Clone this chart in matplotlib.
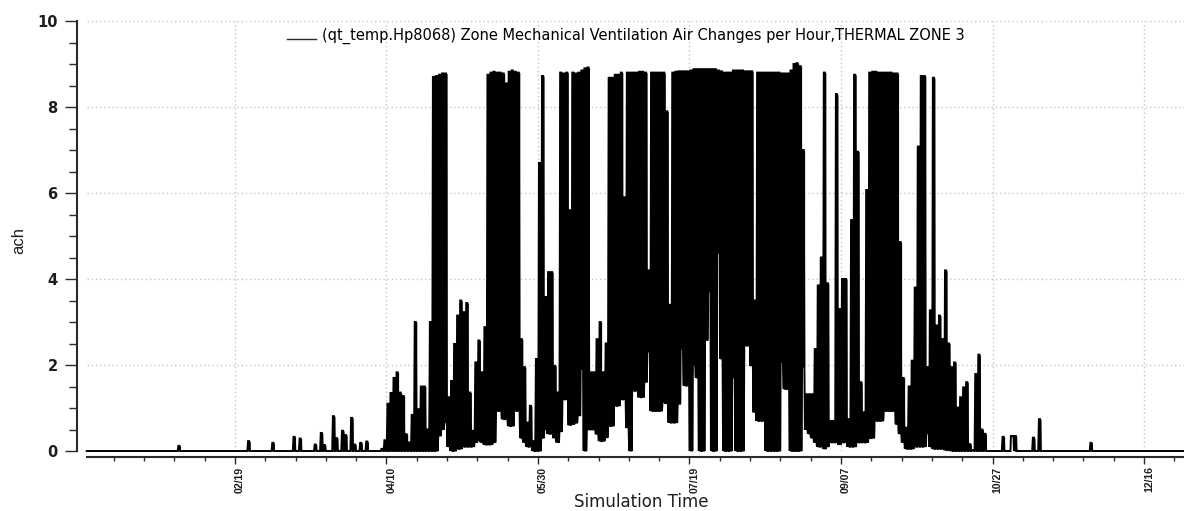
import numpy as np
import matplotlib
matplotlib.use("Agg")
import matplotlib.pyplot as plt
from matplotlib.lines import Line2D
from matplotlib.legend_handler import HandlerLine2D
from matplotlib.ticker import MultipleLocator

# Daily envelope of the zone's mechanical ventilation rate (ach), one value
# per day of year (Jan 1 = day 1) for the ventilation season.
season_start = 98
season_max = [
    0.05, 0.25, 1.1, 1.35, 1.7, 1.83, 1.36, 1.28, 0.39, 0.2,
    0.84, 3.0, 0.97, 1.5, 1.5, 0.5, 3.0, 8.7, 8.72, 8.75,
    8.78, 8.78, 1.25, 1.63, 2.49, 3.15, 3.5, 3.23, 3.44, 1.36,
    0.47, 2.06, 2.57, 1.83, 2.88, 8.75, 8.8, 8.82, 8.8, 8.8,
    8.78, 8.55, 8.82, 8.85, 8.82, 8.8, 2.6, 1.95, 0.66, 1.05,
    0.23, 2.14, 6.7, 8.72, 3.58, 4.16, 4.16, 1.98, 1.36, 8.8,
    8.78, 8.8, 5.6, 8.8, 8.78, 8.8, 8.85, 8.9, 8.92, 1.83,
    1.83, 2.6, 3.0, 1.83, 2.5, 8.68, 8.68, 8.75, 8.75, 8.8,
    5.9, 8.8, 8.8, 8.8, 8.8, 8.82, 8.82, 8.8, 4.2, 8.8,
    8.8, 8.8, 8.8, 8.8, 7.9, 3.4, 8.8, 8.82, 8.83, 8.83,
    8.83, 8.83, 8.85, 8.88, 8.88, 8.88, 8.88, 8.88, 8.88, 8.88,
    8.88, 8.85, 8.83, 8.8, 8.8, 8.8, 8.85, 8.85, 8.85, 8.85,
    8.83, 8.83, 8.83, 3.5, 8.8, 8.8, 8.8, 8.8, 8.8, 8.8,
    8.8, 8.8, 8.78, 8.78, 8.78, 8.85, 9.0, 9.02, 8.95, 7.0,
    1.32, 1.32, 1.32, 2.37, 3.85, 4.5, 8.8, 3.9, 0.7, 0.7,
    8.3, 3.3, 4.0, 4.0, 0.74, 5.37, 8.75, 6.96, 1.6, 0.9,
    6.07, 8.8, 8.82, 8.82, 8.8, 8.8, 8.8, 8.8, 8.8, 8.78,
    8.78, 4.86, 1.7, 0.54, 1.5, 2.1, 3.8, 7.08, 8.72, 8.72,
    1.95, 3.27, 8.68, 2.92, 3.15, 2.6, 4.2, 2.5, 1.95, 2.06,
    1.01, 1.25, 1.48, 1.6, 0.16, 0.02, 1.79, 2.24, 0.5, 0.4,
]
season_min = [
    0, 0, 0, 0, 0, 0, 0, 0, 0, 0,
    0, 0, 0, 0, 0, 0, 0, 0, 0, 0.35,
    0.5, 0.66, 0.1, 0, 0, 0.05, 0.05, 0.1, 0.1, 0.1,
    0.1, 0.2, 0.25, 0.2, 0.15, 0.15, 0.15, 0.2, 0.93, 0.93,
    0.74, 0.74, 0.58, 0.58, 0.93, 0.93, 0.3, 0.2, 0.1, 0.1,
    0, 0, 0, 0.3, 0.5, 0.4, 0.4, 0.3, 0.2, 0.45,
    1.2, 1.2, 0.6, 0.62, 0.65, 0.82, 1.9, 0, 0.5, 0.5,
    0.5, 0.39, 0.23, 0.23, 0.31, 0.58, 0.58, 1.05, 1.05, 1.2,
    1.2, 0.54, 0, 1.4, 1.4, 1.25, 1.25, 1.6, 2.3, 0.93,
    0.93, 0.93, 0.93, 1.13, 1.1, 0.66, 0.66, 0.66, 1.09, 2.37,
    1.52, 1.52, 0, 2.0, 1.7, 0, 0, 2.57, 3.7, 0,
    0, 4.6, 2.14, 0, 0, 0, 1.7, 0, 0, 0,
    2.45, 2.45, 1.98, 0.9, 0.7, 0.7, 0.7, 0, 0, 0,
    0, 0, 2.06, 1.44, 1.44, 0, 0, 0, 0, 1.95,
    0.5, 0.4, 0.3, 0.2, 0.1, 0.1, 0.05, 0.1, 0.2, 0.2,
    0.2, 0.15, 0.2, 0.2, 0.1, 0.1, 0.1, 0.2, 0.2, 0.2,
    0.2, 0.3, 0.3, 0.7, 0.7, 0.7, 0.93, 0.93, 0.93, 0.93,
    0.62, 0.4, 0.2, 0.05, 0.05, 0.05, 0.1, 0.1, 0.1, 0.1,
    0.4, 0.1, 0.05, 0.05, 0.05, 0.05, 0.02, 0.02, 0, 0,
    0, 0, 0, 0, 0, 0, 0, 0, 0, 0,
]

# Short isolated ventilation events outside the season
event_days = [31, 54, 62, 69, 71, 76, 78, 79, 82, 83, 85, 86, 88, 89, 91, 93,
              303, 306, 307, 313, 315, 332]
event_max = [0.12, 0.23, 0.19, 0.33, 0.29, 0.15, 0.42, 0.14, 0.81, 0.3, 0.47, 0.37,
             0.77, 0.15, 0.19, 0.22, 0.33, 0.35, 0.35, 0.31, 0.74, 0.19]
event_min = [0, 0, 0, 0, 0, 0, 0, 0, 0, 0, 0, 0,
             0, 0, 0, 0, 0, 0.35, 0, 0, 0, 0]

tick_days = [50, 100, 150, 200, 250, 300, 350]
tick_labels = ["02/19", "04/10", "05/30", "07/19", "09/07", "10/27", "12/16"]

series_label = ("(qt_temp.Hp8068) Zone Mechanical Ventilation Air Changes "
                "per Hour,THERMAL ZONE 3")

# ---- assemble the sub-daily trace from the daily lows and highs ----
n_days = 365
day_hi = np.zeros(n_days + 1)
day_lo = np.zeros(n_days + 1)
s = slice(season_start, season_start + len(season_max))
day_hi[s] = season_max
day_lo[s] = season_min
for d, h, l in zip(event_days, event_max, event_min):
    day_hi[d] = h
    day_lo[d] = l

days = np.arange(1, n_days + 1)
within_day = np.array([0.08, 0.32, 0.68, 0.92])   # night low, day high, day high, night low
t = (days[:, None] + within_day).ravel()
v = np.column_stack([day_lo[1:], day_hi[1:], day_hi[1:], day_lo[1:]]).ravel()

# daily band edges (each day spans [d, d+1))
edges = np.append(days, n_days + 1)
band_lo = np.append(day_lo[1:], day_lo[-1])
band_hi = np.append(day_hi[1:], day_hi[-1])


class BaselineLineHandler(HandlerLine2D):
    """Legend sample drawn at the text baseline, like an underscore."""
    def create_artists(self, legend, orig_handle, xdescent, ydescent,
                       width, height, fontsize, trans):
        arts = super().create_artists(legend, orig_handle, xdescent, ydescent,
                                      width, height, fontsize, trans)
        for a in arts:
            if isinstance(a, Line2D):
                a.set_ydata(np.asarray(a.get_ydata()) - 0.38 * height)
        return arts


# ---- figure ----
W, H = 1184, 511
fig = plt.figure(figsize=(W / 100, H / 100), dpi=100)
left_px, right_px, top_px, bot_px = 86.5, 1192.5, 21, 451
ax = fig.add_axes([left_px / W, 1 - bot_px / H,
                   (right_px - left_px) / W, (bot_px - top_px) / H])

ax.fill_between(edges, band_lo, band_hi, step="post", color="black",
                linewidth=0, zorder=2)
ax.plot(t, v, color="black", linewidth=1.4, clip_on=False,
        solid_joinstyle="miter", zorder=2.1)

ax.set_xlim(1, 366)
ax.set_ylim(0, 10)

spine_col = "#2a2a2a"
text_col = "#1e1e1e"
for side in ("top", "right"):
    ax.spines[side].set_visible(False)
ax.spines["left"].set_position(("outward", 6.8))
ax.spines["bottom"].set_position(("outward", 4.3))
for side in ("left", "bottom"):
    ax.spines[side].set_linewidth(1.5)
    ax.spines[side].set_color(spine_col)

ax.set_xticks(tick_days)
ax.set_xticklabels(tick_labels, rotation=90, ha="left", fontsize=7.6,
                   fontfamily="Liberation Sans", fontweight="bold", color=text_col)
ax.xaxis.set_minor_locator(MultipleLocator(10))
ax.yaxis.set_major_locator(MultipleLocator(2))
ax.yaxis.set_minor_locator(MultipleLocator(0.5))

ax.tick_params(axis="x", which="major", length=4.8, width=1, color=spine_col, pad=2)
ax.tick_params(axis="x", which="minor", length=3, width=1, color=spine_col)
ax.tick_params(axis="y", which="major", length=9, width=1, color=spine_col, pad=5,
               labelsize=10.5)
ax.tick_params(axis="y", which="minor", length=6, width=1, color=spine_col)
for lbl in ax.get_yticklabels():
    lbl.set_fontweight("bold")
    lbl.set_fontfamily("DejaVu Sans")
    lbl.set_color(text_col)

ax.grid(True, which="major", color="#c4c4c4", linestyle=(0, (1, 2)), linewidth=1)

ax.set_ylabel("ach", fontsize=12, fontfamily="Liberation Sans", color=text_col)
ax.yaxis.set_label_coords(-0.0545, 0.49)
ax.set_xlabel("Simulation Time", fontsize=12, fontfamily="DejaVu Sans",
              color=text_col)
ax.xaxis.set_label_coords(0.5016, -0.0977)

handle = Line2D([], [], color="#2a2a2a", linewidth=1)
ax.legend([handle], [series_label], loc="center",
          bbox_to_anchor=(626 / W, 1 - 36 / H), bbox_transform=fig.transFigure,
          frameon=False, handlelength=2.0, handletextpad=0.4, borderpad=0,
          prop={"family": "DejaVu Sans", "size": 10.5},
          handler_map={Line2D: BaselineLineHandler()})

fig.savefig("out.png", dpi=100)
